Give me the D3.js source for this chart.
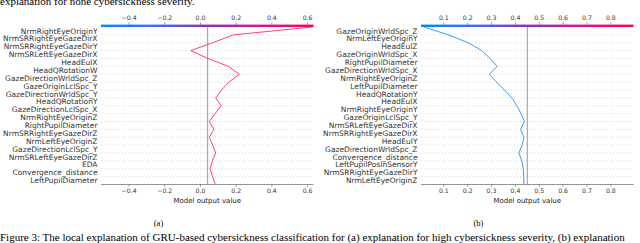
<!DOCTYPE html>
<html lang="en">
<head>
<meta charset="UTF-8">
<title>Decision plots</title>
<script src="https://d3js.org/d3.v7.min.js"></script>
<style>
  body { margin: 0; background: #fff; }
  .ylab { font: 7.5px "DejaVu Sans", sans-serif; fill: #333; }
  .tick { font: 6.2px "DejaVu Sans", sans-serif; fill: #333; }
  .xtitle { font: 7px "DejaVu Sans", sans-serif; fill: #222; }
  .cap { font-family: "Liberation Serif", "Times New Roman", serif; fill: #000; }
  .grid { stroke: #bbb; stroke-width: 0.6; stroke-dasharray: 1,2; }
</style>
</head>
<body>
<div id="chart"></div>
<script>
// features, top to bottom
const featuresA = ["NrmRightEyeOriginY", "NrmSRRightEyeGazeDirX", "NrmSRRightEyeGazeDirY",
  "NrmSRLeftEyeGazeDirX", "HeadEulX", "HeadQRotationW", "GazeDirectionWrldSpc_Z",
  "GazeOriginLclSpc_Y", "GazeDirectionWrldSpc_Y", "HeadQRotationY", "GazeDirectionLclSpc_X",
  "NrmRightEyeOriginZ", "RightPupilDiameter", "NrmSRRightEyeGazeDirZ", "NrmLeftEyeOriginZ",
  "GazeDirectionLclSpc_Y", "NrmSRLeftEyeGazeDirZ", "EDA", "Convergence_distance", "LeftPupilDiameter"];
const featuresB = ["GazeOriginWrldSpc_Z", "NrmLeftEyeOriginY", "HeadEulZ", "GazeOriginWrldSpc_X",
  "RightPupilDiameter", "GazeDirectionWrldSpc_X", "NrmRightEyeOriginZ", "LeftPupilDiameter",
  "HeadQRotationY", "HeadEulX", "NrmRightEyeOriginY", "GazeOriginLclSpc_Y", "NrmSRLeftEyeGazeDirX",
  "NrmSRRightEyeGazeDirX", "HeadEulY", "GazeDirectionWrldSpc_Z", "Convergence_distance",
  "LeftPupilPosInSensorY", "NrmSRRightEyeGazeDirY", "NrmLeftEyeOriginZ"];

// cumulative model output at each row boundary, top (final output) to bottom
const pathA = [0.63, 0.187, 0.07, -0.052, 0.045, 0.159, 0.22, 0.162, 0.121, 0.088, 0.118,
  0.085, 0.052, 0.078, 0.052, 0.071, 0.088, 0.069, 0.056, 0.071, 0.086];
const pathB = [0.02, 0.121, 0.205, 0.261, 0.296, 0.326, 0.292, 0.324, 0.356, 0.387, 0.408,
  0.426, 0.44, 0.424, 0.438, 0.43, 0.417, 0.429, 0.435, 0.437, 0.438];

const baseA = 0.043;
const baseB = 0.452;
const ticksA = [-0.4, -0.2, 0.0, 0.2, 0.4, 0.6];
const ticksB = [0.1, 0.2, 0.3, 0.4, 0.5, 0.6, 0.7, 0.8];

const W = 640, H = 243;
const plotTop = 27, plotBottom = 184.5;

const svg = d3.select("#chart").append("svg")
  .attr("width", W).attr("height", H);

const defs = svg.append("defs");
const grad = defs.append("linearGradient").attr("id", "rb");
grad.append("stop").attr("offset", "0%").attr("stop-color", "#008bfb");
grad.append("stop").attr("offset", "25%").attr("stop-color", "#3f6fe6");
grad.append("stop").attr("offset", "50%").attr("stop-color", "#8a2fc2");
grad.append("stop").attr("offset", "75%").attr("stop-color", "#d8158c");
grad.append("stop").attr("offset", "100%").attr("stop-color", "#ff0051");

function panel(cfg) {
  const x = d3.scaleLinear().domain(cfg.domain).range(cfg.range);
  const y = d3.scaleLinear().domain([0, cfg.features.length]).range([plotTop, plotBottom]);
  const g = svg.append("g");

  // dotted row lines
  g.selectAll("line.grid").data(d3.range(1, cfg.features.length)).join("line")
    .attr("class", "grid")
    .attr("x1", cfg.range[0]).attr("x2", cfg.range[1])
    .attr("y1", d => y(d)).attr("y2", d => y(d));

  // feature labels
  g.selectAll("text.ylab").data(cfg.features).join("text")
    .attr("class", "ylab")
    .attr("x", cfg.range[0] - 3.5)
    .attr("y", (d, i) => y(i + 0.5))
    .attr("dy", "0.35em")
    .attr("text-anchor", "end")
    .text(d => d);

  // base value line
  g.append("line")
    .attr("x1", x(cfg.base)).attr("x2", x(cfg.base))
    .attr("y1", plotTop).attr("y2", plotBottom)
    .attr("stroke", "#999").attr("stroke-width", 1);

  // decision path
  g.append("path")
    .datum(cfg.path)
    .attr("fill", "none")
    .attr("stroke", cfg.color)
    .attr("stroke-width", 1)
    .attr("d", d3.line().x(d => x(d)).y((d, i) => y(i)));

  // colour bar on top
  g.append("rect")
    .attr("x", cfg.range[0]).attr("y", plotTop - 2.4)
    .attr("width", cfg.range[1] - cfg.range[0]).attr("height", 2.4)
    .attr("fill", "url(#rb)");

  const fmt = d3.format(".1f");
  const topAxis = d3.axisTop(x).tickValues(cfg.ticks).tickFormat(fmt).tickSize(2.2).tickPadding(2);
  const ta = g.append("g").attr("transform", `translate(0,${plotTop - 2.4})`).call(topAxis);
  ta.select(".domain").remove();
  ta.selectAll("line").attr("stroke", "#555").attr("stroke-width", 0.6);
  ta.selectAll("text").attr("class", "tick").attr("font-size", null).attr("font-family", null).attr("fill", null);

  const botAxis = d3.axisBottom(x).tickValues(cfg.ticks).tickFormat(fmt).tickSize(2.2).tickPadding(1.5);
  const ba = g.append("g").attr("transform", `translate(0,${plotBottom})`).call(botAxis);
  ba.select(".domain").attr("stroke", "#888").attr("stroke-width", 0.9)
    .attr("d", `M${cfg.range[0]},0H${cfg.range[1]}`);
  ba.selectAll("line").attr("stroke", "#555").attr("stroke-width", 0.6);
  ba.selectAll("text").attr("class", "tick").attr("font-size", null).attr("font-family", null).attr("fill", null);

  g.append("text").attr("class", "xtitle")
    .attr("x", (cfg.range[0] + cfg.range[1]) / 2).attr("y", 202.5)
    .attr("text-anchor", "middle").text("Model output value");

  g.append("text").attr("class", "cap")
    .attr("x", cfg.labelX).attr("y", 226)
    .attr("font-size", 8.5).attr("text-anchor", "middle").text(cfg.label);
}

panel({ features: featuresA, path: pathA, base: baseA, ticks: ticksA,
  domain: [-0.5546, 0.636], range: [101, 313.5], color: "#ff3f84", label: "(a)", labelX: 158.5 });
panel({ features: featuresB, path: pathB, base: baseB, ticks: ticksB,
  domain: [0.0065, 0.897], range: [421, 633.5], color: "#3a9ef8", label: "(b)", labelX: 478.5 });

// captions of the page
svg.append("text").attr("class", "cap").attr("x", 0).attr("y", 5)
  .attr("font-size", 11).text("explanation for none cybersickness severity.");
svg.append("text").attr("class", "cap").attr("x", 0).attr("y", 240.5)
  .attr("font-size", 11)
  .text("Figure 3: The local explanation of GRU-based cybersickness classification for (a) explanation for high cybersickness severity, (b) explanation");
</script>
</body>
</html>
